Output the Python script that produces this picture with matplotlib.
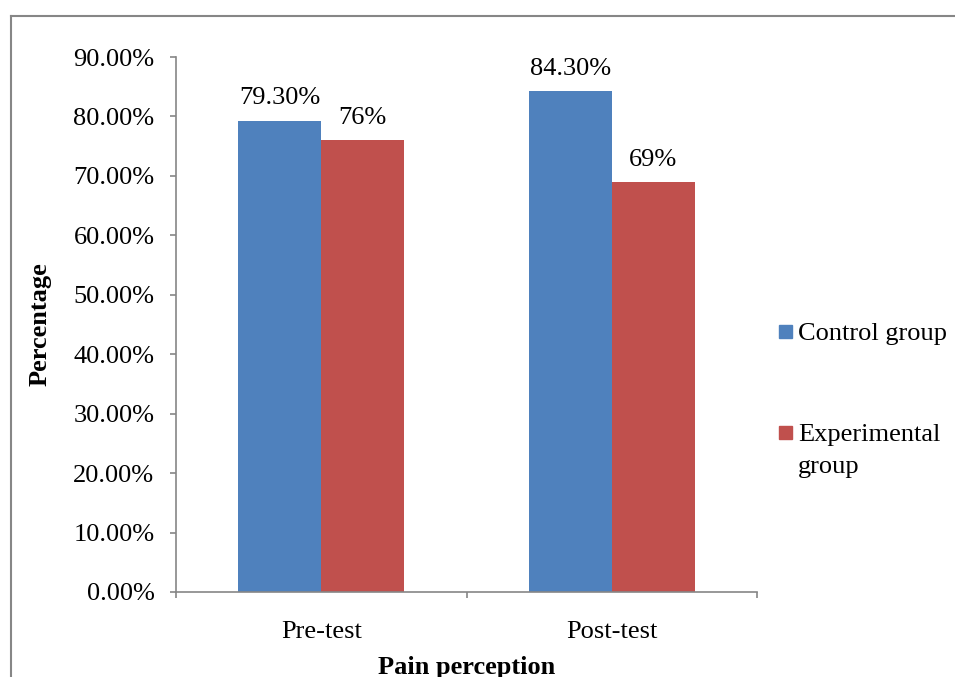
import numpy as np
import matplotlib.pyplot as plt
from matplotlib.patches import Rectangle
from matplotlib.lines import Line2D

categories = ['Pre-test', 'Post-test']
control = [79.3, 84.3]
experimental = [76.0, 69.0]
control_labels = ['79.30%', '84.30%']
experimental_labels = ['76%', '69%']
yticks = [0, 10, 20, 30, 40, 50, 60, 70, 80, 90]
series_names = ['Control group', 'Experimental\ngroup']

blue = '#4f81bd'
red = '#c0504d'
gray = '#868686'
fs = 19

plt.rcParams['font.family'] = ['Liberation Serif', 'DejaVu Serif']

fig = plt.figure(figsize=(9.55, 6.77), dpi=100)
ax = fig.add_axes([0.1843, 0.1256, 0.6084, 0.7902])

x = np.arange(len(categories))
w = 0.285
b1 = ax.bar(x - w / 2, control, w, color=blue)
b2 = ax.bar(x + w / 2, experimental, w, color=red)

for bars, labels in [(b1, control_labels), (b2, experimental_labels)]:
    for bar, lab in zip(bars, labels):
        ax.annotate(lab, (bar.get_x() + bar.get_width() / 2, bar.get_height()),
                    xytext=(0, 8), textcoords='offset points',
                    ha='center', va='bottom', fontsize=fs)

ax.set_xlim(-0.5, 1.5)
ax.set_ylim(0, 90)
ax.set_yticks(yticks)
ax.set_yticklabels(['%.2f%%' % v for v in yticks], fontsize=fs)
ax.set_xticks([-0.5, 0.5, 1.5])
ax.set_xticklabels([])
ax.set_xticks(x, minor=True)
ax.set_xticklabels(categories, minor=True, fontsize=fs)
ax.tick_params(axis='x', which='minor', length=0, pad=21)
ax.tick_params(axis='x', which='major', length=4.5, color=gray, width=1.2)
ax.tick_params(axis='y', length=4.5, color=gray, width=1.2, pad=11)

for s in ['top', 'right']:
    ax.spines[s].set_visible(False)
for s in ['left', 'bottom']:
    ax.spines[s].set_color(gray)
    ax.spines[s].set_linewidth(1.2)

ax.set_ylabel('Percentage', fontsize=fs, fontweight='bold', labelpad=16)
ax.set_xlabel('Pain perception', fontsize=fs, fontweight='bold', labelpad=9)

# legend drawn by hand so the marker sits on the first text line
W, H = 955, 677
for name, color, ytop in zip(series_names, [blue, red], [325, 426]):
    fig.add_artist(Rectangle((779 / W, 1 - (ytop + 13) / H), 13 / W, 13 / H,
                             color=color, transform=fig.transFigure))
    fig.text(798 / W, 1 - (ytop + 9) / H, name.split('\n')[0], fontsize=fs,
             va='center', ha='left')
    if '\n' in name:
        fig.text(798 / W, 1 - (ytop + 41) / H, name.split('\n')[1], fontsize=fs,
                 va='center', ha='left')

# outer chart border (cropped in the original)
fig.add_artist(Line2D([0.0115, 1.0], [0.976, 0.976], color=gray, lw=1.5, transform=fig.transFigure))
fig.add_artist(Line2D([0.0115, 0.0115], [0.0, 0.976], color=gray, lw=1.5, transform=fig.transFigure))

fig.savefig('out.png', dpi=100)
